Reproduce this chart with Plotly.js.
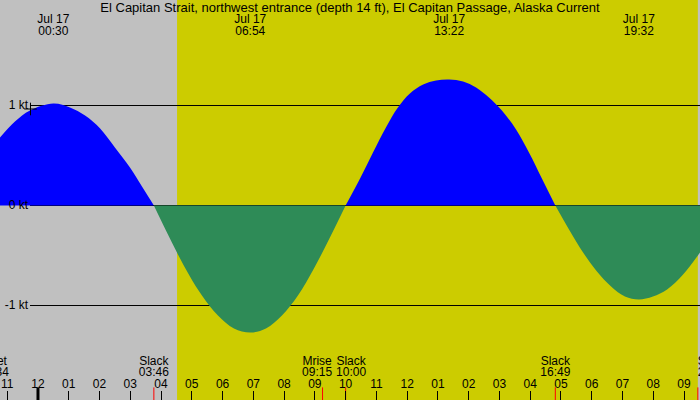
<!DOCTYPE html>
<html>
<head>
<meta charset="utf-8">
<script src="https://cdn.plot.ly/plotly-3.0.1.min.js"></script>
<style>
  html, body { margin: 0; padding: 0; overflow: hidden; background: #c0c0c0; }
  #chart { width: 700px; height: 400px; }
</style>
</head>
<body>
<div id="chart"></div>
<script>
// Current speed in knots (flood positive, ebb negative),
// time in hours after midnight Jul 17 (negative values fall on Jul 16).
const hours = [-1.235, -0.748, -0.26, 0.5, 1.04, 1.53, 2.02, 2.5, 2.99, 3.38, 3.767,
  4.16, 4.55, 4.94, 5.33, 5.85, 6.37, 6.9, 7.41, 7.93, 8.45, 8.97, 9.49, 10.0,
  10.47, 10.89, 11.31, 11.7, 12.09, 12.52, 12.94, 13.367, 13.82, 14.24, 14.66, 15.08, 15.54, 15.96, 16.38, 16.817,
  17.3, 17.72, 18.17, 18.63, 19.08, 19.533, 19.99, 20.45, 20.97, 21.52];
const speed = [0.68, 0.84, 0.95, 1.02, 0.98, 0.9, 0.77, 0.58, 0.38, 0.19, 0,
  -0.25, -0.49, -0.71, -0.9, -1.1, -1.23, -1.27, -1.23, -1.1, -0.9, -0.63, -0.32, 0,
  0.27, 0.53, 0.78, 0.98, 1.12, 1.21, 1.25, 1.26, 1.24, 1.18, 1.08, 0.95, 0.76, 0.53, 0.27, 0,
  -0.26, -0.47, -0.66, -0.81, -0.91, -0.94, -0.91, -0.84, -0.69, -0.47];

// Maximum flood / ebb events, labelled along the top
const maxHours = [0.5, 6.9, 13.367, 19.533];
const maxDates = ['Jul 17', 'Jul 17', 'Jul 17', 'Jul 17'];
const maxTimes = ['00:30', '06:54', '13:22', '19:32'];

// Daylight
const sunrise = 4.52;
const sunset = 21.45;

// Slack water, moon and sun events, labelled along the bottom
const eventHours = [-1.433, 3.767, 9.25, 10.0, 16.817, sunset];
const eventNames = ['Mset', 'Slack', 'Mrise', 'Slack', 'Slack', 'Sunset'];
const eventTimes = ['22:34', '03:46', '09:15', '10:00', '16:49', '21:27'];

// Hour ticks
const tickHours = [-1, 0, 1, 2, 3, 4, 5, 6, 7, 8, 9, 10, 11, 12, 13, 14, 15, 16, 17, 18, 19, 20, 21];
const tickLabels = ['11', '12', '01', '02', '03', '04', '05', '06', '07', '08', '09', '10',
  '11', '12', '01', '02', '03', '04', '05', '06', '07', '08', '09'];
const midnight = [0];

// Speed reference levels
const levels = [1, 0, -1];
const levelLabels = ['1 kt', '0 kt', '-1 kt'];

// Marker on the flood curve
const crossPoint = [-0.244, 0.965];

const W = 700, H = 400;
const xRange = [-1.235, 21.52];
const yRange = [-1.945, 2.055];
const pxPerHour = W / (xRange[1] - xRange[0]);
const pxPerKt = H / (yRange[1] - yRange[0]);
const yAtPx = px => yRange[1] - px / pxPerKt;
const hAtPx = px => xRange[0] + px / pxPerHour;

const FONT = 'Liberation Sans, Arial, sans-serif';
const TXT = { family: FONT, size: 12, color: '#000' };
const FLOOD = '#0000ff';
const EBB = '#2e8b57';

const traces = [];

// Reference lines, drawn first so the filled curve covers them
const lineStart = hAtPx(30);
const lx = [], ly = [];
levels.forEach(v => { lx.push(lineStart, xRange[1], null); ly.push(v, v, null); });
traces.push({
  x: lx, y: ly, mode: 'lines', hoverinfo: 'skip',
  line: { color: '#000', width: 1 }, showlegend: false
});

// Split the curve into flood and ebb segments at each slack (zero) point
const segments = [];
let cur = { x: [], y: [], sign: 0 };
for (let i = 0; i < hours.length; i++) {
  const v = speed[i];
  cur.x.push(hours[i]); cur.y.push(v);
  if (v !== 0 && cur.sign === 0) cur.sign = Math.sign(v);
  if (v === 0 && cur.x.length > 1) {
    segments.push(cur);
    cur = { x: [hours[i]], y: [0], sign: 0 };
  }
}
if (cur.x.length > 1) segments.push(cur);

segments.forEach(s => {
  const c = s.sign > 0 ? FLOOD : EBB;
  traces.push({
    x: s.x, y: s.y, mode: 'lines', fill: 'tozeroy', fillcolor: c,
    line: { color: c, width: 0, shape: 'spline', smoothing: 1 },
    hoverinfo: 'skip', showlegend: false
  });
});

// Level labels
traces.push({
  x: levels.map(() => hAtPx(28)), y: levels, text: levelLabels,
  mode: 'text', textposition: 'middle left', hoverinfo: 'skip',
  textfont: TXT, showlegend: false
});

// Cross marker
traces.push({
  x: [crossPoint[0]], y: [crossPoint[1]], mode: 'markers', hoverinfo: 'skip',
  marker: { symbol: 'cross-thin', size: 9, line: { color: '#000', width: 1 } },
  showlegend: false
});

// Top labels: date and time of each maximum
const topText = (arr, px) => ({
  x: maxHours, y: maxHours.map(() => yAtPx(px)), text: arr,
  mode: 'text', textposition: 'middle center', hoverinfo: 'skip',
  textfont: TXT, showlegend: false
});
traces.push(topText(maxDates, 19.5));
traces.push(topText(maxTimes, 31.5));

// Bottom event labels, pushed apart where they would overlap;
// a label that would run past the right edge starts at its event instead
const labelW = 34 / pxPerHour;
const labelHours = eventHours.slice();
for (let i = 1; i < labelHours.length; i++) {
  const gap = labelHours[i] - labelHours[i - 1];
  if (gap < labelW) {
    const d = (labelW - gap) / 2;
    labelHours[i - 1] -= d;
    labelHours[i] += d;
  }
}
const labelPos = labelHours.map(h => (h + labelW / 2 > xRange[1] ? 'middle right' : 'middle center'));
const bottomText = (arr, px) => ({
  x: labelHours, y: labelHours.map(() => yAtPx(px)), text: arr,
  mode: 'text', textposition: labelPos, hoverinfo: 'skip',
  textfont: TXT, showlegend: false
});
traces.push(bottomText(eventNames, 362));
traces.push(bottomText(eventTimes, 373));

// Hour labels
traces.push({
  x: tickHours, y: tickHours.map(() => yAtPx(385)), text: tickLabels,
  mode: 'text', textposition: 'middle center', hoverinfo: 'skip',
  textfont: TXT, showlegend: false
});

// Event ticks (red) and the heavier midnight tick
traces.push({
  x: eventHours, y: eventHours.map(() => yRange[0]), mode: 'markers', hoverinfo: 'skip',
  marker: { symbol: 'line-ns', size: 18, line: { color: '#ff0000', width: 1 } },
  showlegend: false
});
traces.push({
  x: midnight, y: midnight.map(() => yRange[0]), mode: 'markers', hoverinfo: 'skip',
  marker: { symbol: 'line-ns', size: 18, line: { color: '#000', width: 3 } },
  showlegend: false
});

const layout = {
  width: W, height: H,
  margin: { l: 0, r: 0, t: 0, b: 0, pad: 0 },
  paper_bgcolor: '#c0c0c0',
  plot_bgcolor: '#c0c0c0',
  showlegend: false,
  font: TXT,
  title: {
    text: 'El Capitan Strait, northwest entrance (depth 14 ft), El Capitan Passage, Alaska Current',
    x: 0.5, xref: 'paper', xanchor: 'center',
    y: 1 - 7.5 / H, yref: 'container', yanchor: 'middle',
    font: { family: FONT, size: 13, color: '#000' }
  },
  xaxis: {
    range: xRange, fixedrange: true,
    showgrid: false, zeroline: false, showline: false,
    tickmode: 'array', tickvals: tickHours, showticklabels: false,
    ticks: 'inside', ticklen: 9, tickwidth: 1, tickcolor: '#000'
  },
  yaxis: {
    range: yRange, fixedrange: true,
    showgrid: false, zeroline: false, showline: false,
    showticklabels: false, ticks: ''
  },
  shapes: [{
    type: 'rect', layer: 'below', xref: 'x', yref: 'paper',
    x0: sunrise, x1: sunset, y0: 0, y1: 1,
    fillcolor: '#cccc00', line: { width: 0 }
  }]
};

Plotly.newPlot('chart', traces, layout, { staticPlot: true, displayModeBar: false });
</script>
</body>
</html>
